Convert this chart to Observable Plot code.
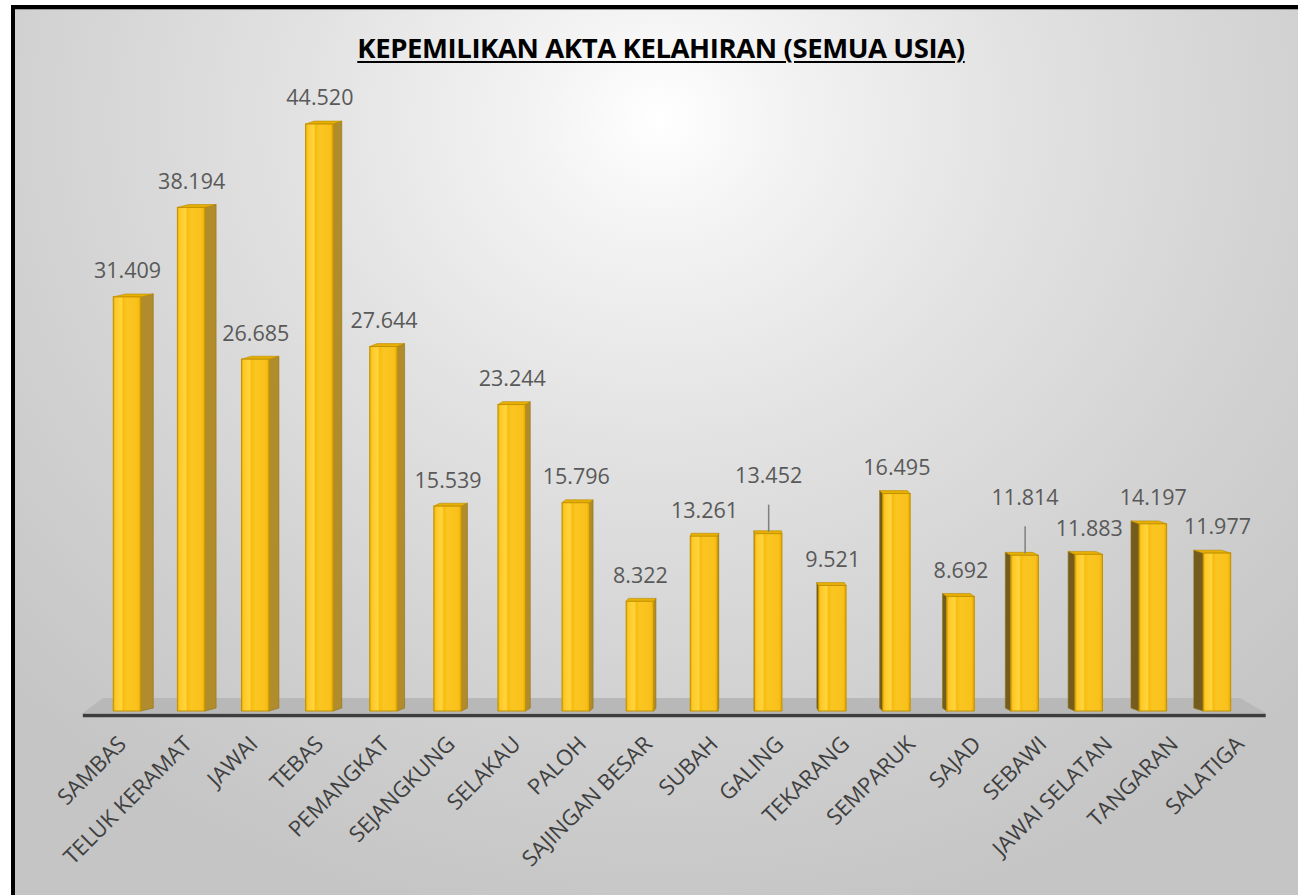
<!DOCTYPE html>
<html><head><meta charset="utf-8">
<script src="https://cdn.jsdelivr.net/npm/d3@7"></script>
<script src="https://cdn.jsdelivr.net/npm/@observablehq/plot@0.6"></script>
<style>
html,body{margin:0;padding:0;background:#fff;width:1298px;height:895px;overflow:hidden;}
#frame{position:absolute;left:11px;top:5px;width:1283px;height:886px;border-top:4px solid #000;border-left:4px solid #000;
  background: radial-gradient(ellipse 900px 820px at 645px 110px, #ffffff 0%, #f3f3f3 14%, #e2e2e2 40%, #d2d2d2 70%, #c5c5c5 100%);
  box-shadow: inset 0 1px 0 #9a9a9a;}
#title{position:absolute;left:12px;top:31px;width:1298px;text-align:center;font-family:"Open Sans",sans-serif;font-weight:700;font-size:27.5px;line-height:34px;color:#000;text-decoration:underline;text-decoration-thickness:2px;text-underline-offset:3px;letter-spacing:-0.4px;}
#chart{position:absolute;left:0;top:80px;}
</style></head>
<body>
<div id="frame"></div>
<div id="title">KEPEMILIKAN AKTA KELAHIRAN (SEMUA USIA)</div>
<div id="chart"></div>
<script>
const categories = ["SAMBAS","TELUK KERAMAT","JAWAI","TEBAS","PEMANGKAT","SEJANGKUNG","SELAKAU","PALOH","SAJINGAN BESAR","SUBAH","GALING","TEKARANG","SEMPARUK","SAJAD","SEBAWI","JAWAI SELATAN","TANGARAN","SALATIGA"];
const values = [31.409,38.194,26.685,44.520,27.644,15.539,23.244,15.796,8.322,13.261,13.452,9.521,16.495,8.692,11.814,11.883,14.197,11.977];
const valueLabels = ["31.409","38.194","26.685","44.520","27.644","15.539","23.244","15.796","8.322","13.261","13.452","9.521","16.495","8.692","11.814","11.883","14.197","11.977"];
const liftedLabels = ["GALING","SEBAWI"];

const n = categories.length;
const rows = categories.map((name,i)=>({i, name, v:values[i], label:valueLabels[i], lifted: liftedLabels.includes(name)}));

// 3D styling parameters
const hw = 0.215;             // half bar width (index units)
const vanish = 9.7;           // perspective centre (index units)
const depth = 0.02;           // side depth per index step
const rise = 0.22;            // back face rise (value units)
const side = rows.flatMap(d => {
  const ox = (vanish - d.i) * depth;
  const edge = ox >= 0 ? d.i + hw : d.i - hw;
  const col = ox >= 0 ? "#B08C2C" : "#735C1E";
  return [{name:d.name, x:edge, y1:0, y2:d.v, col}, {name:d.name, x:edge+ox, y1:rise, y2:d.v+rise, col}];
});
const topFace = rows.flatMap(d => {
  const ox = (vanish - d.i) * depth;
  return [{name:d.name, y:d.v, x1:d.i-hw, x2:d.i+hw}, {name:d.name, y:d.v+rise, x1:d.i-hw+ox, x2:d.i+hw+ox}];
});
const floor = [
  {y:-0.15, x1:-0.69, x2:n-1+0.76},
  {y:0.99, x1:-0.375, x2:n-1+0.36}
];

const defs = () => {
  const g = d3.create("svg:g");
  const lg = g.append("defs").append("linearGradient").attr("id","frontGrad")
    .attr("x1",0).attr("x2",1).attr("y1",0).attr("y2",0);
  [[0,"#E6AA00"],[0.08,"#FFC926"],[0.3,"#FFD43E"],[0.36,"#F6BD10"],[0.5,"#FBC622"],[0.9,"#F9C01A"],[1,"#E0A400"]]
    .forEach(([o,c]) => lg.append("stop").attr("offset",o).attr("stop-color",c));
  return g.node();
};

const chart = Plot.plot({
  width: 1298, height: 815,
  marginLeft: 95, marginRight: 49, marginTop: 24.5, marginBottom: 184,
  x: {type:"linear", domain:[-0.5, n-0.5], axis:null},
  y: {domain:[0, 46], axis:null},
  style: {background:"transparent", overflow:"visible", fontFamily:"'Open Sans', sans-serif"},
  marks: [
    defs,
    Plot.areaX(floor, {y:"y", x1:"x1", x2:"x2", fill:"#b8b8b8"}),
    Plot.ruleY([-0.3], {x1:-0.69, x2:n-1+0.76, stroke:"#3d3d3d", strokeWidth:3.5}),
    Plot.areaY(side, {x:"x", y1:"y1", y2:"y2", z:"name", fill:"col", stroke:"#8f7010", strokeWidth:0.6}),
    Plot.areaX(topFace, {y:"y", x1:"x1", x2:"x2", z:"name", fill:"#E8B000", stroke:"#B88A00", strokeWidth:0.6}),
    Plot.rect(rows, {x1:d=>d.i-hw, x2:d=>d.i+hw, y1:0, y2:"v", fill:"url(#frontGrad)", stroke:"#C29200", strokeWidth:1}),
    Plot.ruleX(rows.filter(d=>d.lifted), {x:"i", y1:d=>d.v+0.15, y2:d=>d.v+2.2, stroke:"#7f7f7f", strokeWidth:1.5}),
    Plot.text(rows.filter(d=>!d.lifted), {x:"i", y:"v", text:"label", dy:-26, fontSize:21.5, fill:"#595959"}),
    Plot.text(rows.filter(d=>d.lifted), {x:"i", y:"v", text:"label", dy:-58, fontSize:21.5, fill:"#595959"}),
    Plot.text(rows, {x:d=>d.i*1.0255, y:0, text:"name", rotate:-45, textAnchor:"end", dy:29, dx:-5, fontSize:22, fill:"#404040"})
  ]
});
document.getElementById("chart").appendChild(chart);
</script>
</body></html>
